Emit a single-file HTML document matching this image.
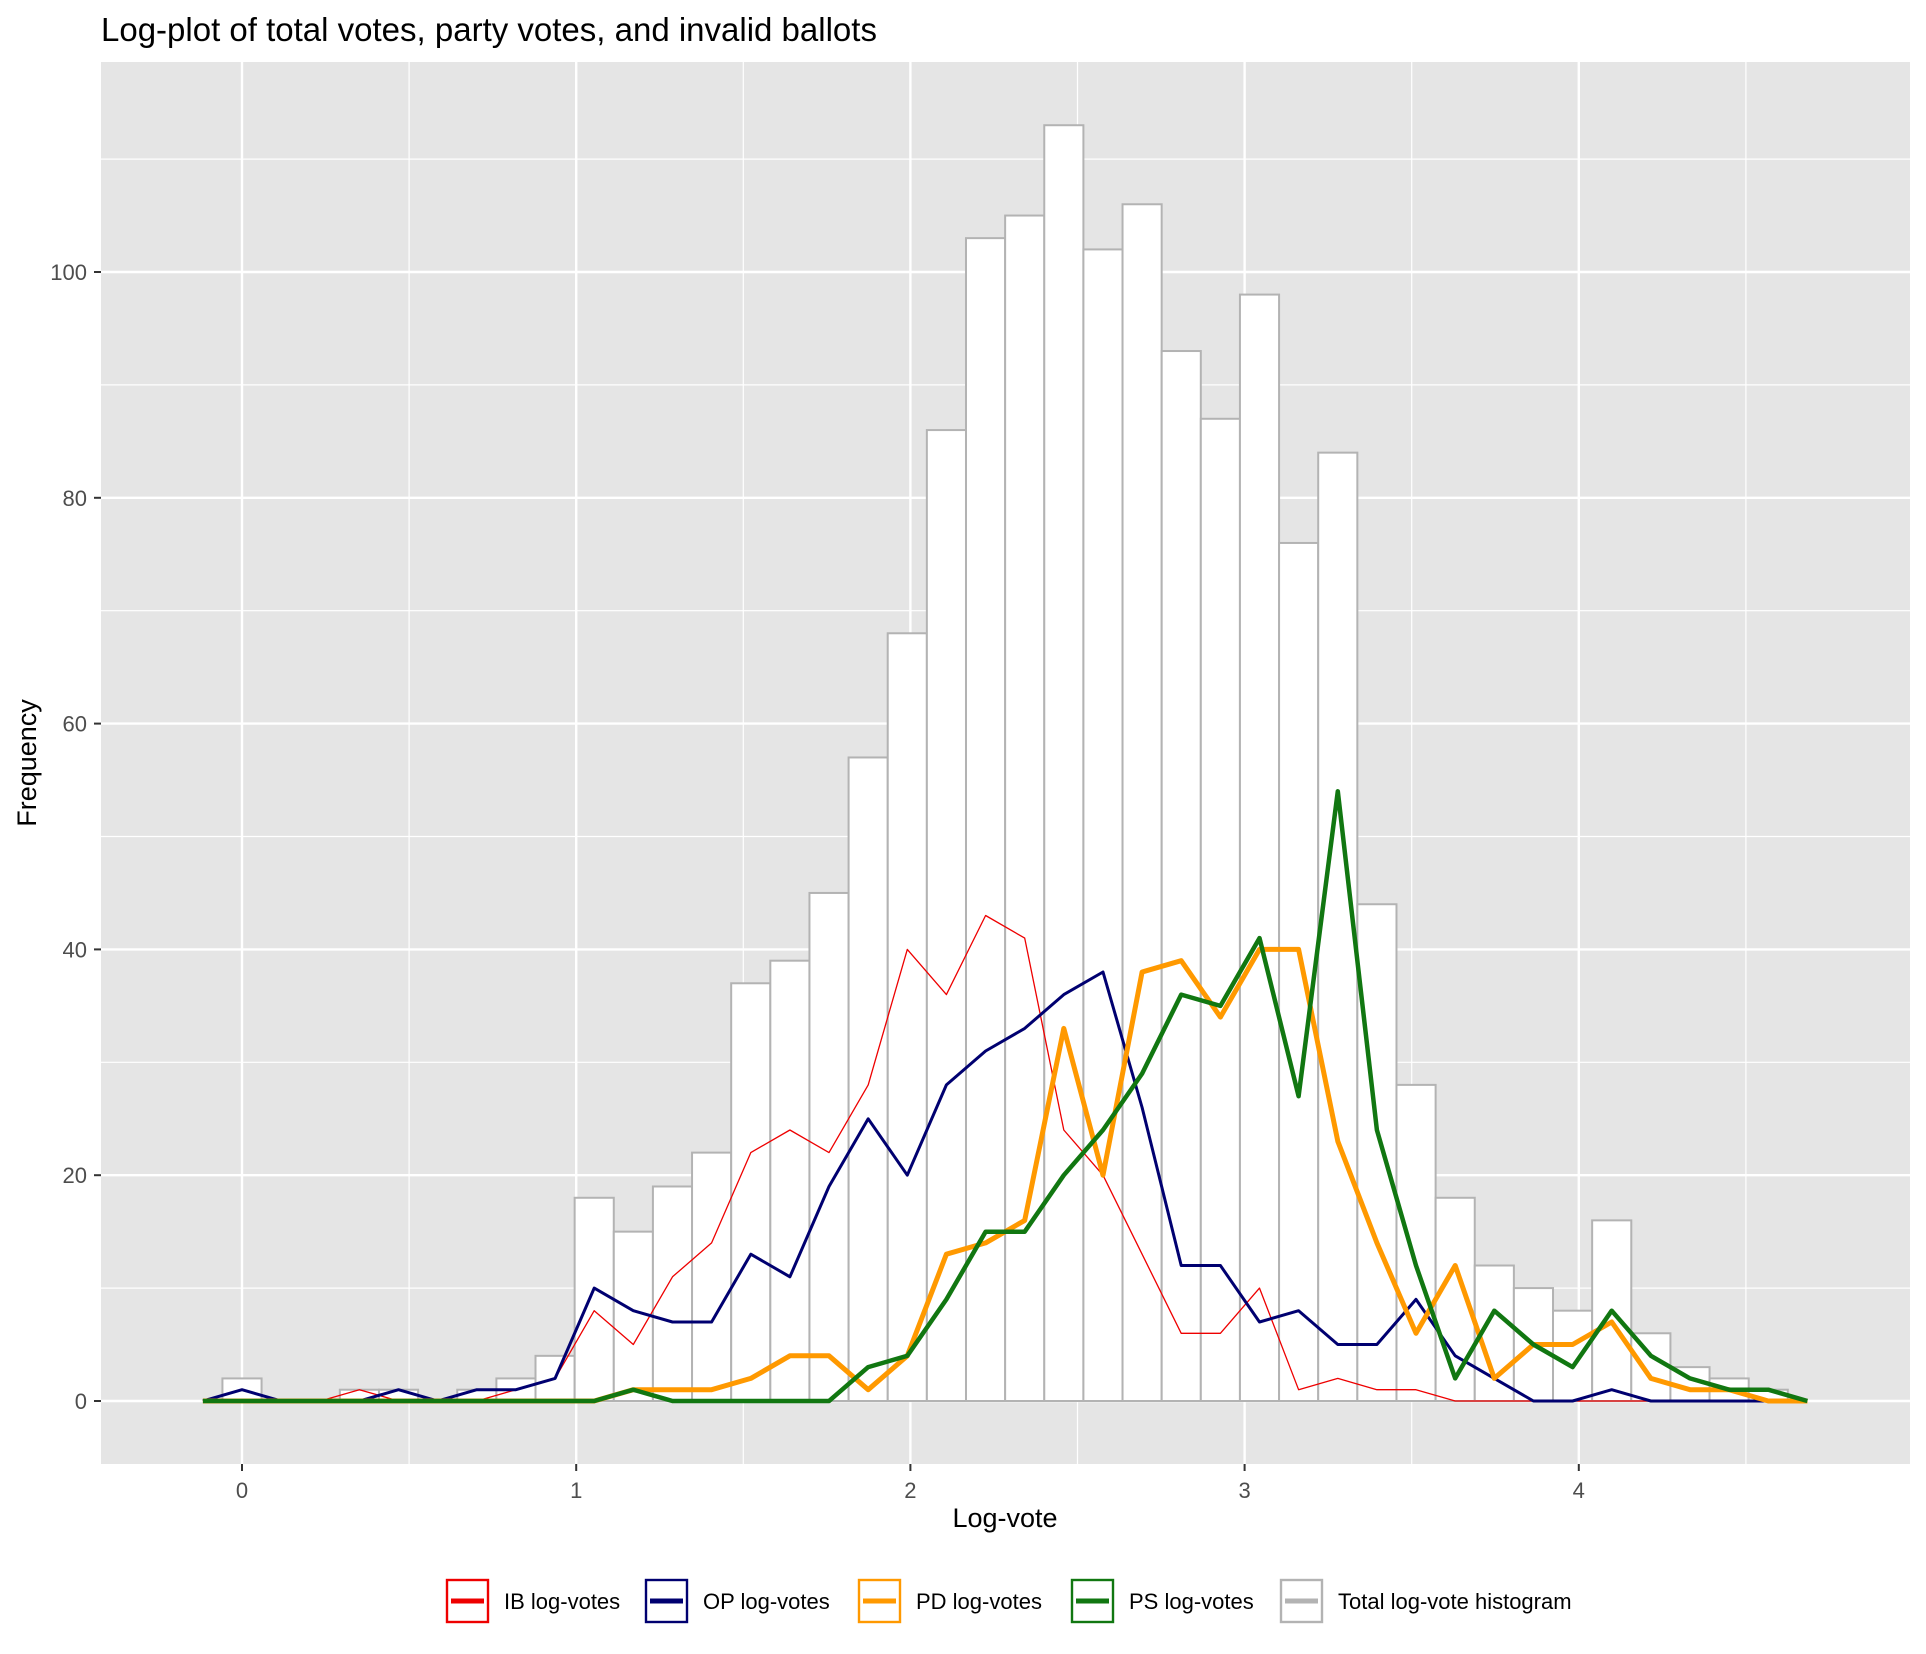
<!DOCTYPE html>
<html><head><meta charset="utf-8"><style>
html,body{margin:0;padding:0;background:#fff;}
svg{display:block;font-family:"Liberation Sans",Arial,sans-serif;}
</style></head><body>
<svg id="chart" width="1926" height="1654" viewBox="0 0 1926 1654" xmlns="http://www.w3.org/2000/svg">
<text x="101" y="41" font-size="33" fill="#000">Log-plot of total votes, party votes, and invalid ballots</text>
<rect x="101" y="62" width="1809" height="1402" fill="#e5e5e5"/>
<g id="grid"></g>
<g id="bars"></g>
<g id="lines"></g>
<g id="axes"></g>
<text x="1005" y="1527" font-size="27" text-anchor="middle" fill="#000">Log-vote</text>
<text transform="translate(36,763) rotate(-90)" font-size="27" text-anchor="middle" fill="#000">Frequency</text>
<g id="legend"></g>
</svg>
<script>
const binIdx = [-1,0,1,2,3,4,5,6,7,8,9,10,11,12,13,14,15,16,17,18,19,20,21,22,23,24,25,26,27,28,29,30,31,32,33,34,35,36,37,38,39,40];
const totalCounts = [0,2,0,0,1,1,0,1,2,4,18,15,19,22,37,39,45,57,68,86,103,105,113,102,106,93,87,98,76,84,44,28,18,12,10,8,16,6,3,2,1,0];
const ibVotes = [0,1,0,0,1,0,0,0,1,2,8,5,11,14,22,24,22,28,40,36,43,41,24,20,13,6,6,10,1,2,1,1,0,0,0,0,0,0,0,0,0,0];
const opVotes = [0,1,0,0,0,1,0,1,1,2,10,8,7,7,13,11,19,25,20,28,31,33,36,38,26,12,12,7,8,5,5,9,4,2,0,0,1,0,0,0,0,0];
const pdVotes = [0,0,0,0,0,0,0,0,0,0,0,1,1,1,2,4,4,1,4,13,14,16,33,20,38,39,34,40,40,23,14,6,12,2,5,5,7,2,1,1,0,0];
const psVotes = [0,0,0,0,0,0,0,0,0,0,0,1,0,0,0,0,0,3,4,9,15,15,20,24,29,36,35,41,27,54,24,12,2,8,5,3,8,4,2,1,1,0];
const binWidth = 0.1171;
const xTicks = [0,1,2,3,4];
const yTicks = [0,20,40,60,80,100];
const legendLabels = ["IB log-votes","OP log-votes","PD log-votes","PS log-votes","Total log-vote histogram"];

const NS="http://www.w3.org/2000/svg";
const X0=242, XS=334.2, Y0=1401, YS=11.29;
const PL=101, PR=1910, PT=62, PB=1464;
function sx(v){return X0+v*XS;}
function sy(v){return Y0-v*YS;}
function mk(tag,attrs,parent){const e=document.createElementNS(NS,tag);for(const k in attrs)e.setAttribute(k,attrs[k]);parent.appendChild(e);return e;}

const grid=document.getElementById('grid');
for(let v=-0.5;v<=4.5001;v+=1){
  const g=mk('line',{x1:sx(v),x2:sx(v),y1:PT,y2:PB,stroke:'#fff','stroke-width':1.2},grid);
  
  
}
for(let v=10;v<=110;v+=20){
  const g=mk('line',{x1:PL,x2:PR,y1:sy(v),y2:sy(v),stroke:'#fff','stroke-width':1.2},grid);
  
  
}
xTicks.forEach(v=>{
  const g=mk('line',{x1:sx(v),x2:sx(v),y1:PT,y2:PB,stroke:'#fff','stroke-width':2.4},grid);
  
  
});
yTicks.forEach(v=>{
  const g=mk('line',{x1:PL,x2:PR,y1:sy(v),y2:sy(v),stroke:'#fff','stroke-width':2.4},grid);
  
  
});

const bars=document.getElementById('bars');
binIdx.forEach((b,i)=>{
  if(b<0) return;
  const c=b*binWidth, h=totalCounts[i];
  const r=mk('rect',{x:sx(c-binWidth/2),y:sy(h),width:binWidth*XS,height:h*YS,fill:'#fff',stroke:'#b3b3b3','stroke-width':2},bars);
  
  
});

const lines=document.getElementById('lines');
const series=[[ibVotes,'#ee0000',1.3,'ib-line'],[opVotes,'#000070',3,'op-line'],[pdVotes,'#ff9900',5,'pd-line'],[psVotes,'#117711',4.5,'ps-line']];
series.forEach(s=>{
  const pts=binIdx.map((b,i)=>sx(b*binWidth).toFixed(1)+','+sy(s[0][i]).toFixed(1)).join(' ');
  const p=mk('polyline',{points:pts,fill:'none',stroke:s[1],'stroke-width':s[2],'stroke-linejoin':'round'},lines);
  
  
});

const axes=document.getElementById('axes');
xTicks.forEach(v=>{
  const t=mk('line',{x1:sx(v),x2:sx(v),y1:PB,y2:PB+7,stroke:'#333','stroke-width':2},axes);
  
  
  const l=mk('text',{x:sx(v),y:1498,'font-size':22,'text-anchor':'middle',fill:'#4d4d4d'},axes);
  l.textContent=v;
  
  
});
yTicks.forEach(v=>{
  const t=mk('line',{x1:PL-7,x2:PL,y1:sy(v),y2:sy(v),stroke:'#333','stroke-width':2},axes);
  
  
  const l=mk('text',{x:87,y:sy(v)+8,'font-size':22,'text-anchor':'end',fill:'#4d4d4d'},axes);
  l.textContent=v;
  
  
});

const legend=document.getElementById('legend');
const lgColors=['#ee0000','#000070','#ff9900','#117711','#b3b3b3'];
const lgX=[446,645,858,1071,1280];
legendLabels.forEach((lab,i)=>{
  const x=lgX[i];
  const r=mk('rect',{x:x+1,y:1580,width:41,height:42,fill:'#fff',stroke:lgColors[i],'stroke-width':2.4},legend);
  
  
  const ln=mk('line',{x1:x+5,x2:x+38,y1:1601,y2:1601,stroke:lgColors[i],'stroke-width':5},legend);
  
  
  const t=mk('text',{x:x+58,y:1609,'font-size':22,fill:'#000'},legend);
  t.textContent=lab;
  
  
});
</script>
</body></html>
